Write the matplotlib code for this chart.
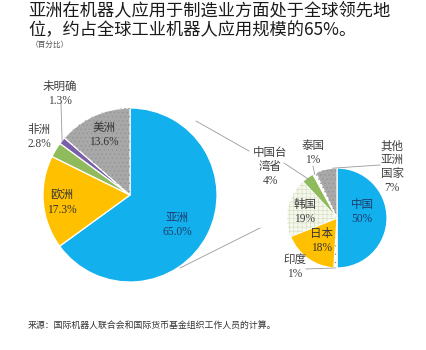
import matplotlib
matplotlib.use("Agg")
import matplotlib.pyplot as plt
from matplotlib.patches import Wedge
import numpy as np

# ---- data ----
world_labels = ["亚洲", "欧洲", "非洲", "未明确", "美洲"]
world_values = [65.0, 17.3, 2.8, 1.3, 13.6]
world_pct = ["65.0%", "17.3%", "2.8%", "1.3%", "13.6%"]

asia_labels = ["中国", "印度", "日本", "韩国", "中国台\n湾省", "泰国", "其他\n亚洲\n国家"]
asia_values = [50, 1, 18, 19, 4, 1, 7]
asia_pct = ["50%", "1%", "18%", "19%", "4%", "1%", "7%"]

title_lines = ["亚洲在机器人应用于制造业方面处于全球领先地",
               "位，约占全球工业机器人应用规模的65%。"]
unit_text = "（百分比）"
source_text = "来源：国际机器人联合会和国际货币基金组织工作人员的计算。"

# ---- styling ----
W, H = 426, 350
BLUE, ORANGE, GREEN, PURPLE, GRAY = "#12b0ec", "#ffc000", "#8fbb5c", "#7a5ea8", "#a8a8a8"
world_colors = [BLUE, ORANGE, GREEN, PURPLE, GRAY]
world_hatch = [None, None, None, None, "...."]
asia_colors = [BLUE, "#ffffff", ORANGE, "#f6f8f0", GREEN, "#ffffff", GRAY]
asia_hatch = [None, "....", None, "++++", None, "....", "...."]
hatch_colors = {"....": "#939393", "++++": "#d3e0bd"}

plt.rcParams["hatch.linewidth"] = 0.45
LABEL_FONT = ["Liberation Serif", "Noto Sans CJK SC"]
SANS = ["Noto Sans CJK SC", "DejaVu Sans"]


def Y(py):
    return H - py


fig = plt.figure(figsize=(W / 100, H / 100), dpi=100)
ax = fig.add_axes([0, 0, 1, 1])

big_c, big_r = (130, Y(195)), 87
small_c, small_r = (337, Y(218)), 50


def draw_pie(values, colors, hatches, center, radius):
    wedges, _ = ax.pie(values, colors=colors, startangle=90, counterclock=False,
                       center=center, radius=radius,
                       wedgeprops=dict(edgecolor="white", linewidth=0.9))
    for w, h in zip(wedges, hatches):
        if h:
            ax.add_patch(Wedge(w.center, w.r, w.theta1, w.theta2, fill=False,
                               hatch=h, edgecolor=hatch_colors[h], linewidth=0))
    return wedges


def edge_point(w, frac=1.0, ang=None):
    a = np.deg2rad((w.theta1 + w.theta2) / 2 if ang is None else ang)
    return (w.center[0] + frac * w.r * np.cos(a), w.center[1] + frac * w.r * np.sin(a))


bw = draw_pie(world_values, world_colors, world_hatch, big_c, big_r)
sw = draw_pie(asia_values, asia_colors, asia_hatch, small_c, small_r)

ax.set_xlim(0, W)
ax.set_ylim(0, H)
ax.set_aspect("auto")
ax.axis("off")

# ---- slice labels ----
world_pos = [(177, 225), (62, 203), (39, 137), (60, 94), (104, 135)]
world_tc = ["#1c3d6e", "#333333", "#404040", "#404040", "#333333"]
for lab, pct, (px, py), tc in zip(world_labels, world_pct, world_pos, world_tc):
    ax.text(px, Y(py), f"{lab}\n{pct}", ha="center", va="center", fontsize=8.3,
            family=LABEL_FONT, color=tc, linespacing=1.2)

asia_pos = [(362, 212), (295, 267), (322, 241), (305, 212), (270, 167), (313, 153), (392, 167)]
asia_tc = ["#1c3d6e", "#404040", "#333333", "#404040", "#404040", "#404040", "#404040"]
for lab, pct, (px, py), tc in zip(asia_labels, asia_pct, asia_pos, asia_tc):
    ax.text(px, Y(py), f"{lab}\n{pct}", ha="center", va="center", fontsize=8.3,
            family=LABEL_FONT, color=tc, linespacing=1.2)

# ---- leader lines ----
LC = "#9a9a9a"
def leader(start, end):
    ax.plot([start[0], end[0]], [start[1], end[1]], color=LC, lw=0.6)

leader((61, Y(103)), edge_point(bw[3], 1.0))           # 未明确
leader((306, Y(269)), edge_point(sw[1], 1.0))          # 印度
leader((284, Y(163)), edge_point(sw[4], 0.95))         # 台湾
leader((313, Y(166)), edge_point(sw[5], 0.98))         # 泰国
leader((380, Y(165)), edge_point(sw[6], 1.0, ang=95))  # 其他

# ---- connectors between the two pies ----
leader((196, Y(121)), (249, Y(151)))
leader((180, Y(268)), (260, Y(228)))

# ---- titles and notes ----
for i, line in enumerate(title_lines):
    fig.text(28 / W, 1 - (11 + 19 * i) / H, line, ha="left", va="center",
             fontsize=12.4, family=SANS, color="#1a1a1a")
fig.text(31 / W, 1 - 45 / H, unit_text, ha="left", va="center",
         fontsize=5.5, family=SANS, color="#555555")
fig.text(28 / W, 1 - 325 / H, source_text, ha="left", va="center",
         fontsize=6.4, family=SANS, color="#333333")

fig.savefig("out.png", dpi=100)
